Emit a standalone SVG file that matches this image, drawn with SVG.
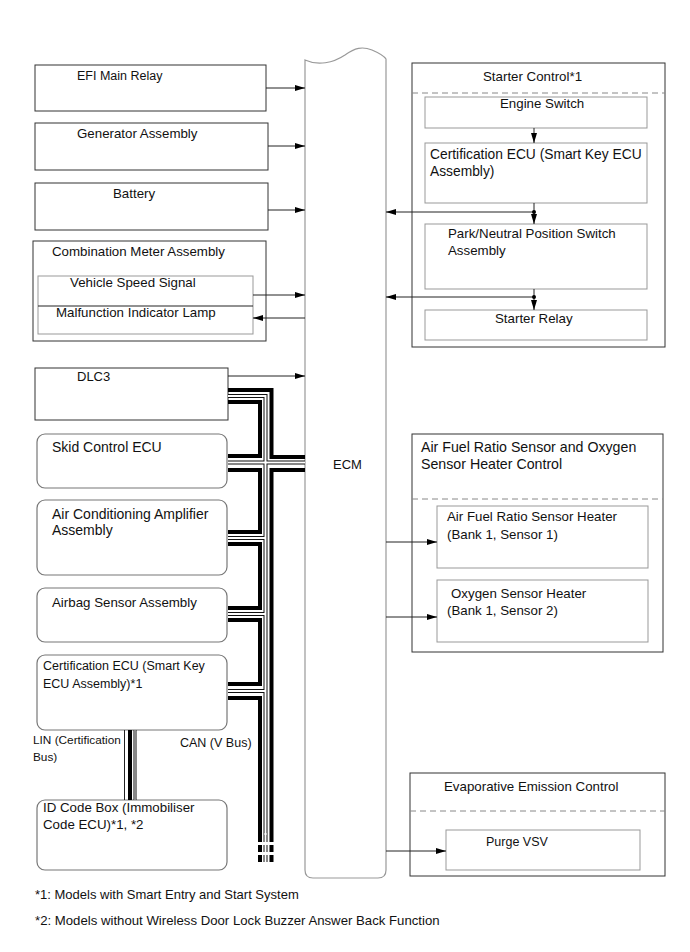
<svg xmlns="http://www.w3.org/2000/svg" width="690" height="952" viewBox="0 0 690 952">
<style>
.box{fill:#fff;stroke:#333;stroke-width:1}
.rbox{fill:#fff;stroke:#777;stroke-width:1.2}
.ibox{fill:none;stroke:#999;stroke-width:1}
.dash{stroke:#888;stroke-width:1;stroke-dasharray:6 4;fill:none}
.t{font-family:"Liberation Sans",Arial,sans-serif;font-size:13.3px;fill:#111}
.s{font-size:12.5px}
.ln{stroke:#222;stroke-width:1;fill:none}
.thick{stroke:#000;stroke-width:4;fill:none}
.hb{stroke:#111;stroke-width:4;fill:none}
.hw{stroke:#fff;stroke-width:2;fill:none}
.dsh{stroke-dasharray:7 3}
</style>
<defs>
<marker id="ah" viewBox="0 0 10 6" refX="10" refY="3" markerWidth="10" markerHeight="6" markerUnits="userSpaceOnUse" orient="auto"><path d="M0,0 L10,3 L0,6 z" fill="#000"/></marker>
</defs>
<rect width="690" height="952" fill="#fff"/>

<g id="ecm">
<path d="M305,60 C318,66 333,63 345,55 C355,48 362,46 372,50 C379,53 384,56 386,59 V870 Q386,878 378,878 H313 Q305,878 305,870 Z" fill="#fff" stroke="#999" stroke-width="1.2"/>
<text class="t" x="333" y="469" style="font-size:13px">ECM</text>
</g>

<g id="efi-main-relay"><rect class="box" x="35" y="65" width="231" height="46"/><text class="t s" x="77" y="80">EFI Main Relay</text></g>
<g id="generator"><rect class="box" x="35" y="123" width="233" height="47"/><text class="t" x="77" y="138">Generator Assembly</text></g>
<g id="battery"><rect class="box" x="35" y="183" width="233" height="47"/><text class="t" x="113" y="198">Battery</text></g>
<g id="combination-meter">
<rect class="box" x="33" y="241" width="233" height="100"/>
<text class="t" x="52" y="256">Combination Meter Assembly</text>
<rect class="ibox" x="38" y="276" width="215" height="58"/>
<line class="ln" x1="38" y1="306" x2="253" y2="306"/>
<text class="t" x="70" y="287">Vehicle Speed Signal</text>
<text class="t" x="56" y="317">Malfunction Indicator Lamp</text>
</g>
<g id="dlc3"><rect class="box" x="35" y="368" width="193" height="52"/><text class="t" x="77" y="381" style="font-size:13px">DLC3</text></g>
<g id="skid"><rect class="rbox" x="37" y="434" width="190" height="54" rx="8"/><text class="t" x="52" y="452" style="font-size:14px">Skid Control ECU</text></g>
<g id="ac-amp"><rect class="rbox" x="37" y="500" width="190" height="75" rx="8"/><text class="t" x="52" y="519" style="font-size:14px">Air Conditioning Amplifier</text><text class="t" x="52" y="535" style="font-size:14px">Assembly</text></g>
<g id="airbag"><rect class="rbox" x="37" y="588" width="190" height="54" rx="8"/><text class="t" x="52" y="607">Airbag Sensor Assembly</text></g>
<g id="cert-left"><rect class="rbox" x="37" y="655" width="190" height="75" rx="8"/><text class="t s" x="43" y="670">Certification ECU (Smart Key</text><text class="t s" x="43" y="688">ECU Assembly)*1</text></g>
<g id="id-code-box"><rect class="rbox" x="37" y="800" width="190" height="70" rx="8"/><text class="t" x="43" y="812">ID Code Box (Immobiliser</text><text class="t" x="43" y="829">Code ECU)*1, *2</text></g>

<g id="starter-control">
<rect class="box" x="412" y="63" width="253" height="284"/>
<text class="t" x="483" y="81">Starter Control*1</text>
<line class="dash" x1="412" y1="93" x2="665" y2="93"/>
<g id="engine-switch"><rect class="ibox" x="425" y="97" width="222" height="31"/><text class="t" x="500" y="108">Engine Switch</text></g>
<g id="cert-right"><rect class="ibox" x="425" y="143" width="222" height="60"/><text class="t" x="430" y="159" style="font-size:13.8px">Certification ECU (Smart Key ECU</text><text class="t" x="430" y="176" style="font-size:13.8px">Assembly)</text></g>
<g id="pnp-switch"><rect class="ibox" x="425" y="224" width="222" height="65"/><text class="t" x="448" y="238">Park/Neutral Position Switch</text><text class="t" x="448" y="255">Assembly</text></g>
<g id="starter-relay"><rect class="ibox" x="425" y="310" width="222" height="30"/><text class="t" x="495" y="323">Starter Relay</text></g>
</g>

<g id="af-control">
<rect class="box" x="412" y="434" width="251" height="218"/>
<text class="t" x="421" y="452" style="font-size:14.2px">Air Fuel Ratio Sensor and Oxygen</text>
<text class="t" x="421" y="469" style="font-size:14.2px">Sensor Heater Control</text>
<line class="dash" x1="412" y1="499" x2="663" y2="499"/>
<g id="af-heater"><rect class="ibox" x="437" y="506" width="211" height="62"/><text class="t" x="447" y="521">Air Fuel Ratio Sensor Heater</text><text class="t" x="447" y="539">(Bank 1, Sensor 1)</text></g>
<g id="o2-heater"><rect class="ibox" x="437" y="580" width="211" height="62"/><text class="t" x="451" y="598">Oxygen Sensor Heater</text><text class="t" x="447" y="615">(Bank 1, Sensor 2)</text></g>
</g>

<g id="evap-control">
<rect class="box" x="410" y="773" width="255" height="103"/>
<text class="t" x="444" y="791">Evaporative Emission Control</text>
<line class="dash" x1="410" y1="811" x2="665" y2="811"/>
<g id="purge-vsv"><rect class="ibox" x="446" y="830" width="194" height="40"/><text class="t s" x="486" y="846">Purge VSV</text></g>
</g>

<g id="connectors">
<line class="ln" x1="266" y1="88" x2="305" y2="88" marker-end="url(#ah)"/>
<line class="ln" x1="268" y1="146" x2="305" y2="146" marker-end="url(#ah)"/>
<line class="ln" x1="268" y1="210" x2="305" y2="210" marker-end="url(#ah)"/>
<line class="ln" x1="253" y1="295" x2="305" y2="295" marker-end="url(#ah)"/>
<line class="ln" x1="305" y1="318" x2="253" y2="318" marker-end="url(#ah)"/>
<line class="ln" x1="228" y1="376" x2="305" y2="376" marker-end="url(#ah)"/>
<line class="ln" x1="534" y1="128" x2="534" y2="143" marker-end="url(#ah)"/>
<line class="ln" x1="534" y1="203" x2="534" y2="224" marker-end="url(#ah)"/>
<line class="ln" x1="534" y1="212" x2="386" y2="212" marker-end="url(#ah)"/>
<circle cx="534" cy="212" r="2" fill="#000"/>
<line class="ln" x1="534" y1="289" x2="534" y2="310" marker-end="url(#ah)"/>
<line class="ln" x1="534" y1="297" x2="386" y2="297" marker-end="url(#ah)"/>
<circle cx="534" cy="297" r="2" fill="#000"/>
<line class="ln" x1="386" y1="542" x2="437" y2="542" marker-end="url(#ah)"/>
<line class="ln" x1="386" y1="617" x2="437" y2="617" marker-end="url(#ah)"/>
<line class="ln" x1="386" y1="851" x2="446" y2="851" marker-end="url(#ah)"/>

<g id="can-bus">
<path class="hb" d="M228,396 H265.5 V835 M228,462.5 H305 M228,538 H265.5 M228,614 H265.5 M228,691 H265.5"/>
<path class="hw" d="M228,396 H265.5 V835 M228,462.5 H305 M228,538 H265.5 M228,614 H265.5 M228,691 H265.5"/>
<path class="thick" d="M228,402 H260 V456 H228 M228,470 H260 V532 H228 M228,544 H260 V608 H228 M228,620 H260 V684 H228 M228,698 H260 V835"/>
<path class="thick" stroke-width="3.5" d="M228,390 H271.5 V457 H305 M305,470 H271.5 V835"/>
<line class="thick dsh" x1="260" y1="835" x2="260" y2="862"/>
<line class="thick dsh" stroke-width="3.5" x1="271.5" y1="835" x2="271.5" y2="862"/>
<line class="hb dsh" x1="265.5" y1="835" x2="265.5" y2="862"/>
<line class="hw" x1="265.5" y1="833" x2="265.5" y2="862"/>
</g>
<g id="lin-bus">
<line class="ln" stroke="#777" x1="124.5" y1="730" x2="124.5" y2="800"/>
<line class="thick" x1="130" y1="730" x2="130" y2="800"/>
<line stroke="#111" stroke-width="3" x1="135" y1="730" x2="135" y2="800"/>
<line stroke="#fff" stroke-width="1" x1="135" y1="730" x2="135" y2="800"/>
</g>
</g>

<g id="labels">
<text class="t" x="33" y="744" style="font-size:11.8px">LIN (Certification</text>
<text class="t" x="33" y="761" style="font-size:11.8px">Bus)</text>
<text class="t s" x="180" y="747">CAN (V Bus)</text>
<text class="t" x="35" y="899" style="font-size:13px">*1: Models with Smart Entry and Start System</text>
<text class="t" x="35" y="925" style="font-size:13.2px">*2: Models without Wireless Door Lock Buzzer Answer Back Function</text>
</g>
</svg>
